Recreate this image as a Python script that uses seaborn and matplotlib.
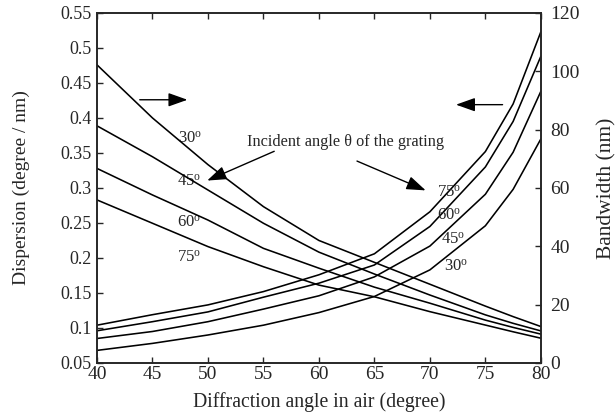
import matplotlib
matplotlib.use("Agg")
import matplotlib.pyplot as plt
import matplotlib.ticker as mticker
import numpy as np
import pandas as pd
import seaborn as sns

# ---------------- data ----------------
angles = [40, 45, 50, 55, 60, 65, 70, 75, 77.5, 80]
incidence = ["30", "45", "60", "75"]

# Dispersion (degree / nm), left axis — increasing curves
disp_30 = [0.068, 0.078, 0.090, 0.104, 0.122, 0.145, 0.183, 0.246, 0.298, 0.370]
disp_45 = [0.085, 0.095, 0.109, 0.127, 0.146, 0.173, 0.217, 0.291, 0.351, 0.438]
disp_60 = [0.096, 0.109, 0.123, 0.144, 0.164, 0.190, 0.245, 0.330, 0.395, 0.488]
disp_75 = [0.104, 0.119, 0.133, 0.152, 0.176, 0.206, 0.266, 0.352, 0.420, 0.523]

# Bandwidth (nm), right axis — decreasing curves
bw_30 = [102.2, 84.0, 68.0, 53.6, 42.0, 34.5, 27.0, 19.5, 15.9, 12.5]
bw_45 = [81.3, 70.7, 59.3, 47.9, 38.0, 30.5, 23.3, 16.5, 13.6, 11.0]
bw_60 = [66.7, 57.6, 49.0, 39.3, 32.5, 26.0, 20.5, 14.7, 12.2, 9.9]
bw_75 = [55.9, 47.9, 39.9, 33.0, 26.7, 22.7, 17.6, 13.0, 10.7, 8.5]

left_ticks = [0.05, 0.1, 0.15, 0.2, 0.25, 0.3, 0.35, 0.4, 0.45, 0.5, 0.55]
right_ticks = [0, 20, 40, 60, 80, 100, 120]
x_ticks = [40, 45, 50, 55, 60, 65, 70, 75, 80]

disp_df = pd.DataFrame({
    "angle": angles * 4,
    "value": disp_30 + disp_45 + disp_60 + disp_75,
    "inc": sum([[i] * len(angles) for i in incidence], []),
})
bw_df = pd.DataFrame({
    "angle": angles * 4,
    "value": bw_30 + bw_45 + bw_60 + bw_75,
    "inc": sum([[i] * len(angles) for i in incidence], []),
})

# ---------------- style ----------------
sns.set_style("ticks")
plt.rcParams["font.family"] = ["Liberation Serif", "DejaVu Serif"]
plt.rcParams["mathtext.fontset"] = "custom"
plt.rcParams["mathtext.rm"] = "Liberation Serif"
plt.rcParams["mathtext.it"] = "Liberation Serif:italic"
plt.rcParams["axes.linewidth"] = 1.2

fig = plt.figure(figsize=(6.16, 4.18), dpi=100)
ax = fig.add_axes([0.1575, 0.1316, 0.878 - 0.1575, 0.969 - 0.1316])
ax2 = ax.twinx()

pal = {i: "black" for i in incidence}
sns.lineplot(data=disp_df, x="angle", y="value", hue="inc", palette=pal,
             legend=False, ax=ax, linewidth=1.15, sort=False)
sns.lineplot(data=bw_df, x="angle", y="value", hue="inc", palette=pal,
             legend=False, ax=ax2, linewidth=1.15, sort=False)

ax.set_xlim(40, 80)
ax.set_ylim(0.05, 0.55)
ax2.set_ylim(0, 120)
ax.set_xticks(x_ticks)
ax.set_yticks(left_ticks)
ax2.set_yticks(right_ticks)
ax.yaxis.set_major_formatter(mticker.FuncFormatter(lambda v, p: f"{v:g}"))

ax.tick_params(axis="x", direction="in", length=4, width=1, labelsize=14,
               top=True, pad=2)
ax.tick_params(axis="y", direction="in", length=4, width=1, labelsize=13,
               pad=4)
ax2.tick_params(axis="y", direction="in", length=4, width=1, labelsize=14,
                pad=7)

ax.set_xlabel("Diffraction angle in air (degree)", fontsize=14.2, labelpad=7)
ax.set_ylabel("Dispersion (degree / nm)", fontsize=14, labelpad=22)
ax2.set_ylabel("Bandwidth (nm)", fontsize=15.5, labelpad=12)

# ---------------- annotations ----------------
deg = r"$^{\mathrm{o}}$"
lab_fs = 12
for txt, x, y in [("30", 47.3, 0.371), ("45", 47.2, 0.309),
                  ("60", 47.2, 0.251), ("75", 47.2, 0.200),
                  ("75", 70.6, 0.294), ("60", 70.6, 0.261),
                  ("45", 71.0, 0.226), ("30", 71.3, 0.187)]:
    ax.text(x, y, txt + deg, fontsize=lab_fs, ha="left", va="center")

ax.text(62.4, 0.366, "Incident angle θ of the grating", fontsize=11.7,
        ha="center", va="center")

arrow_kw = dict(arrowstyle="-|>,head_length=0.9,head_width=0.32",
                color="black", lw=1.0, mutation_scale=13)
ax.annotate("", xy=(49.7, 0.309), xytext=(56.2, 0.354), arrowprops=arrow_kw)
ax.annotate("", xy=(69.85, 0.295), xytext=(63.2, 0.340), arrowprops=arrow_kw)
ax.annotate("", xy=(48.4, 0.426), xytext=(43.6, 0.426), arrowprops=arrow_kw)
ax.annotate("", xy=(72.1, 0.419), xytext=(76.8, 0.419), arrowprops=arrow_kw)

fig.savefig("out.png", dpi=100)
